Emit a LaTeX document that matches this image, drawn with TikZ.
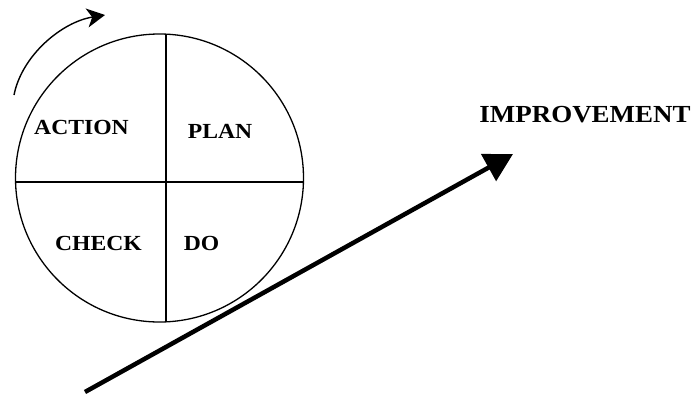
\documentclass[tikz,border=0pt]{standalone}
\usepackage{fontspec}
\newfontfamily\pdcafont[FakeStretch=1.1]{Liberation Serif}
\usetikzlibrary{arrows.meta}
\tikzset{
  quadlabel/.style={font=\pdcafont\bfseries\fontsize{21.5}{25}\selectfont, inner sep=0pt},
  goallabel/.style={font=\pdcafont\bfseries\fontsize{24.5}{28}\selectfont, inner sep=0pt},
  wheelline/.style={line width=1.3pt, draw=black},
  turnarrow/.style={-{Stealth[length=18pt,width=19pt,inset=5pt]}, line width=1.4pt},
  improvearrow/.style={-{Triangle[length=28pt,width=30pt]}, line width=4.5pt}
}

\begin{document}
\begin{tikzpicture}[x=1pt, y=-1pt]
  \useasboundingbox (0,0) rectangle (696,394);
  % wheel and its four quarters
  \draw[wheelline] (159.5,178) circle[radius=144];
  \coordinate (wheeltop) at (166,34);
  \coordinate (wheelbottom) at (166,322);
  \coordinate (wheelleft) at (15.5,182);
  \coordinate (wheelright) at (303.5,182);
  \draw[wheelline] (wheeltop) -- (wheelbottom);
  \draw[wheelline] (wheelleft) -- (wheelright);
  \node[quadlabel] (action) at (81.5,127) {ACTION};
  \node[quadlabel] (plan) at (220,131) {PLAN};
  \node[quadlabel] (check) at (98.5,243) {CHECK};
  \node[quadlabel] (do) at (201.5,243) {DO};
  % turning arrow
  \coordinate (turnstart) at (14,95);
  \coordinate (turnend) at (105,15);
  \draw[turnarrow] (turnstart) .. controls (22,55) and (62,22) .. (turnend);
  % improvement
  \node[goallabel] (improve) at (585,115) {IMPROVEMENT};
  \coordinate (risestart) at (85,392);
  \coordinate (riseend) at (513,154);
  \draw[improvearrow] (risestart) -- (riseend);
\end{tikzpicture}
\end{document}
